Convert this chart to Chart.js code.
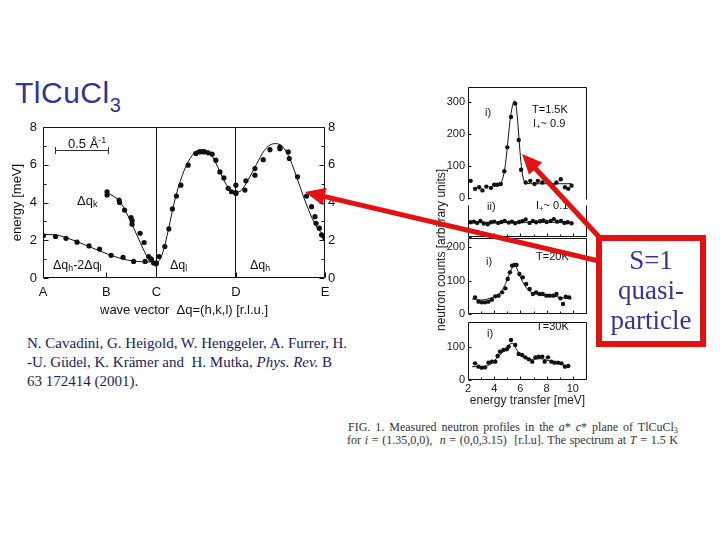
<!DOCTYPE html>
<html><head><meta charset="utf-8">
<script src="https://cdn.jsdelivr.net/npm/chart.js@4.4.1/dist/chart.umd.min.js"></script>
<style>
html,body{margin:0;padding:0;background:#fff;}
#stage{position:relative;width:720px;height:540px;overflow:hidden;font-family:"Liberation Sans",Arial,sans-serif;color:#111;}
.abs{position:absolute;white-space:nowrap;line-height:1;}
canvas{position:absolute;}
sub{font-size:70%;vertical-align:-0.25em;line-height:0;}
.cap{position:absolute;left:348px;width:330px;font-family:'Liberation Serif',serif;font-size:12px;line-height:13px;color:#333;text-align:justify;text-align-last:justify;white-space:nowrap;}
</style></head><body><div id="stage">

<div class="abs" style="left:15px;top:78px;font-size:30px;color:#333399;letter-spacing:0.5px;">TlCuCl<span style="font-size:20px;position:relative;top:9px;">3</span></div>

<canvas id="disp" width="340" height="210" style="left:5px;top:110px;"></canvas>
<canvas id="p15" width="170" height="137" style="left:430px;top:75px;"></canvas>
<canvas id="pii" width="170" height="56" style="left:430px;top:193px;"></canvas>
<canvas id="p20" width="170" height="100" style="left:430px;top:226px;"></canvas>
<canvas id="p30" width="170" height="100" style="left:430px;top:310px;"></canvas>

<!-- dispersion annotations -->
<div class="abs" style="left:68px;top:137px;font-size:13px;">0.5 Å<sup style="font-size:9px;vertical-align:5px;line-height:0">-1</sup></div>
<div class="abs" style="left:55px;top:150px;width:54px;height:0;border-top:1px solid #333;"></div>
<div class="abs" style="left:55px;top:147px;width:0;height:7px;border-left:1px solid #333;"></div>
<div class="abs" style="left:108px;top:147px;width:0;height:7px;border-left:1px solid #333;"></div>
<div class="abs" style="left:77px;top:194px;font-size:13px;">Δq<sub>k</sub></div>
<div class="abs" style="left:53px;top:259px;font-size:12.5px;">Δq<sub>h</sub>-2Δq<sub>l</sub></div>
<div class="abs" style="left:170px;top:259px;font-size:12.5px;">Δq<sub>l</sub></div>
<div class="abs" style="left:250px;top:259px;font-size:12.5px;">Δq<sub>h</sub></div>

<!-- spectra annotations -->
<div class="abs" style="left:441px;top:250px;font-size:12px;transform:translate(-50%,-50%) rotate(-90deg);">neutron counts [arbitrary units]</div>
<div class="abs" style="left:485px;top:107px;font-size:11px;">i)</div>
<div class="abs" style="left:532px;top:104px;font-size:11px;">T=1.5K</div>
<div class="abs" style="left:533px;top:118px;font-size:11px;">I<sub>+</sub>~ 0.9</div>
<div class="abs" style="left:487px;top:201px;font-size:11px;">ii)</div>
<div class="abs" style="left:536px;top:200px;font-size:11px;">I<sub>+</sub>~ 0.1</div>
<div class="abs" style="left:486px;top:256px;font-size:11px;">i)</div>
<div class="abs" style="left:536px;top:251px;font-size:11px;">T=20K</div>
<div class="abs" style="left:487px;top:328px;font-size:11px;">i)</div>
<div class="abs" style="left:536px;top:321px;font-size:11px;">T=30K</div>

<!-- citation -->
<div class="abs" style="left:27px;top:334px;font-family:'Liberation Serif',serif;font-size:15px;line-height:19px;color:#1a1a5e;">N. Cavadini, G. Heigold, W. Henggeler, A. Furrer, H.<br>-U. Güdel, K. Krämer and &nbsp;H. Mutka, <i>Phys. Rev.</i> B<br>63 172414 (2001).</div>

<!-- caption -->
<div class="cap" style="top:421px;">FIG. 1. Measured neutron profiles in the <i>a</i>* <i>c</i>* plane of TlCuCl<sub>3</sub></div>
<div class="cap" style="top:434px;left:347px;width:331px;">for <i>i</i> = (1.35,0,0), &nbsp;<i>n</i> = (0,0,3.15) &nbsp;[r.l.u]. The spectrum at <i>T</i> = 1.5 K</div>

<svg id="ov" width="720" height="540" style="position:absolute;left:0;top:0;"></svg>

<div class="abs" style="left:602px;top:245px;width:98px;text-align:center;font-family:'Liberation Serif',serif;font-size:27px;line-height:30px;color:#333399;">S=1<br>quasi-<br>particle</div>

</div>
<script>
// ---------- DATA ----------
// Dispersion (energy [meV] vs wave vector path position)
const dispTickLabels = ['A','B','C','D','E'];
const dispTickPos = [0, 63.3, 113.3, 192.7, 281.7];
const dispYTicks = [0, 2, 4, 6, 8];
const dispYMinor = [1, 3, 5, 7];

const acX = [0.5, 12.5, 23, 34, 46, 56.5, 68, 80, 90.5, 102, 108, 110.5, 113];
const acY = [2.25, 2.2, 2.1, 1.9, 1.7, 1.53, 1.2, 1.1, 0.88, 0.88, 1.0, 0.8, 0.75];
const acFitX = [0, 8, 16, 24, 32, 40, 48, 56, 64, 72, 80, 88, 96, 104, 113.3];
const acFitY = [2.3, 2.3, 2.25, 2.12, 1.97, 1.8, 1.62, 1.45, 1.28, 1.13, 1.0, 0.92, 0.87, 0.85, 0.85];

const kX = [64, 64, 76, 76.5, 81.5, 88, 89, 89, 97, 101, 105.5, 108];
const kY = [4.57, 4.4, 4.13, 4.0, 3.6, 3.2, 3.04, 2.85, 2.37, 1.88, 1.14, 1.0];
const kFitX = [64, 70, 76, 82, 88, 94, 100, 106, 109];
const kFitY = [4.5, 4.35, 4.1, 3.6, 2.95, 2.25, 1.55, 0.95, 0.85];

const cdX = [113.3, 116, 121.7, 125.7, 129.3, 133.3, 137.7, 145, 152.7, 156.7, 160.7, 165, 169, 172.7, 176.7, 180.7, 185, 188.3, 192.7];
const cdY = [0.79, 1.14, 1.67, 2.6, 3.66, 4.34, 4.92, 5.98, 6.6, 6.68, 6.68, 6.63, 6.56, 6.24, 5.62, 5.3, 4.75, 4.57, 4.48];
const cdFitX = [113.3, 117, 121, 125, 129, 133, 137, 141, 145, 149, 153, 157, 161, 165, 169, 173, 177, 181, 185, 189, 192.7];
const cdFitY = [0.8, 1.0, 1.6, 2.5, 3.5, 4.4, 5.1, 5.7, 6.15, 6.5, 6.72, 6.8, 6.8, 6.7, 6.45, 6.05, 5.6, 5.15, 4.8, 4.6, 4.55];

const deX = [192.7, 192.7, 201.7, 202.7, 211.7, 211.7, 220, 226.7, 236.7, 236.7, 245, 246, 254.3, 263.3, 268.3, 271.7, 272.7, 276, 278.3, 281, 281.7];
const deY = [4.92, 4.52, 4.66, 5.15, 5.45, 5.8, 6.27, 6.8, 6.94, 6.85, 6.68, 6.33, 5.36, 4.34, 3.78, 3.25, 2.9, 2.64, 2.28, 2.2, 2.1];
const deFitX = [192.7, 197, 201, 205, 209, 213, 217, 221, 225, 229, 233, 237, 241, 245, 249, 253, 257, 261, 265, 269, 273, 277, 281.7];
const deFitY = [4.55, 4.6, 4.85, 5.2, 5.6, 6.0, 6.4, 6.75, 6.98, 7.1, 7.12, 7.05, 6.85, 6.5, 6.0, 5.4, 4.8, 4.2, 3.65, 3.15, 2.75, 2.45, 2.25];

// Spectra (neutron counts vs energy transfer [meV])
const specXTicks = [2, 4, 6, 8, 10];
const specXMinor = [3, 5, 7, 9, 11];

const p15E = [2.2, 2.54, 2.85, 3.1, 3.4, 3.75, 4.0, 4.25, 4.5, 4.77, 5.0, 5.28, 5.6, 5.87, 6.05, 6.4, 6.75, 7.08, 7.33, 7.67, 7.92, 8.18, 8.5, 8.75, 9.08, 9.4, 9.65, 9.9];
const p15C = [54, 29, 34, 24, 36, 32, 42, 42, 44, 84, 159, 254, 296, 182, 89, 49, 54, 44, 54, 49, 59, 49, 39, 49, 59, 34, 29, 39];
const fit15E = [4.4, 4.6, 4.8, 5.0, 5.2, 5.4, 5.55, 5.7, 5.85, 6.0, 6.15, 6.3, 6.5, 7.0, 8.0, 9.0, 9.9];
const fit15C = [45, 55, 90, 160, 240, 290, 305, 280, 210, 130, 75, 52, 46, 45, 45, 45, 45];
const p15Ticks = [0, 100, 200, 300];

const iiE = [2.2, 2.45, 2.7, 2.95, 3.2, 3.5, 3.75, 4.0, 4.3, 4.55, 4.8, 5.1, 5.35, 5.6, 5.9, 6.15, 6.4, 6.7, 6.95, 7.2, 7.5, 7.75, 8.0, 8.3, 8.55, 8.8, 9.1, 9.35, 9.6, 9.9];
const iiC = [46, 48, 44, 50, 42, 40, 46, 48, 44, 47, 50, 45, 48, 43, 47, 49, 55, 44, 50, 46, 49, 52, 47, 50, 56, 48, 50, 44, 46, 43];
const fitiiE = [2.2, 6.0, 10.0];
const fitiiC = [46, 46, 46];

const p20E = [2.54, 2.8, 3.05, 3.3, 3.56, 3.82, 4.08, 4.33, 4.6, 4.85, 5.03, 5.2, 5.36, 5.54, 5.7, 5.92, 6.18, 6.44, 6.7, 6.95, 7.2, 7.46, 7.7, 7.97, 8.23, 8.5, 8.75, 9.05, 9.25, 9.46, 9.72];
const p20C = [50, 37, 35, 35, 37, 43, 53, 55, 65, 77, 105, 125, 145, 147, 147, 120, 110, 90, 75, 60, 65, 60, 60, 55, 55, 55, 60, 47, 30, 52, 50];
const fit20E = [2.3, 3.0, 3.5, 4.0, 4.5, 4.8, 5.1, 5.4, 5.6, 5.8, 6.0, 6.3, 6.6, 7.0, 7.5, 8.0, 8.5, 9.0, 9.5, 9.9];
const fit20C = [45, 42, 45, 52, 65, 85, 115, 140, 145, 130, 110, 88, 72, 62, 58, 56, 54, 50, 47, 45];
const p20Ticks = [0, 100, 200];

const p30E = [2.54, 2.8, 3.05, 3.3, 3.56, 3.82, 4.08, 4.26, 4.44, 4.7, 4.95, 5.1, 5.28, 5.6, 5.87, 6.13, 6.38, 6.64, 6.9, 7.15, 7.4, 7.67, 7.85, 8.1, 8.36, 8.6, 8.87, 9.13, 9.4, 9.65];
const p30C = [50, 40, 37, 38, 52, 55, 55, 72, 85, 90, 92, 100, 120, 105, 78, 75, 68, 62, 55, 68, 70, 70, 55, 68, 55, 52, 52, 50, 40, 42];
const fit30E = [2.3, 3.2, 3.8, 4.3, 4.8, 5.2, 5.4, 5.7, 6.0, 6.4, 7.0, 7.5, 8.0, 8.5, 9.0, 9.5, 9.8];
const fit30C = [40, 40, 50, 70, 90, 108, 110, 92, 75, 65, 62, 64, 60, 53, 48, 43, 42];
const p30Ticks = [0, 100];

// ---------- HELPERS ----------
const zip = (xs, ys) => xs.map((x, i) => ({x, y: ys[i]}));
Chart.defaults.font.family = '"Liberation Sans", Arial, sans-serif';
Chart.defaults.color = '#222';

const frameTicks = {
  id: 'frameTicks',
  afterDatasetsDraw(chart, args, o) {
    const {ctx, chartArea: a, scales} = chart;
    ctx.save();
    ctx.strokeStyle = '#111';
    ctx.lineWidth = 1;
    const L = Math.round(a.left) + 0.5, R = Math.round(a.right) - 0.5;
    const T = Math.round(a.top) + 0.5, B = Math.round(a.bottom) - 0.5;
    const s = o.sides || 'tlbr';
    ctx.beginPath();
    if (s.includes('t')) { ctx.moveTo(L, T); ctx.lineTo(R, T); }
    if (s.includes('b')) { ctx.moveTo(L, B); ctx.lineTo(R, B); }
    if (s.includes('l')) { ctx.moveTo(L, T); ctx.lineTo(L, B); }
    if (s.includes('r')) { ctx.moveTo(R, T); ctx.lineTo(R, B); }
    (o.yTicks || []).forEach(([v, len]) => {
      const p = Math.round(scales.y.getPixelForValue(v)) + 0.5;
      ctx.moveTo(L, p); ctx.lineTo(L + len, p);
      if (o.rightTicks) { ctx.moveTo(R, p); ctx.lineTo(R - len, p); }
    });
    (o.xTicks || []).forEach(([v, len]) => {
      const p = Math.round(scales.x.getPixelForValue(v)) + 0.5;
      ctx.moveTo(p, B); ctx.lineTo(p, B - len);
      if (o.topTicks) { ctx.moveTo(p, T); ctx.lineTo(p, T + len); }
    });
    ctx.stroke();
    ctx.restore();
  }
};

const ptsDs = (data, r) => ({data, showLine: false, pointRadius: r, pointBackgroundColor: '#111', pointBorderColor: '#111', pointBorderWidth: 0});
const lineDs = (data) => ({data, showLine: true, pointRadius: 0, borderColor: '#111', borderWidth: 1, cubicInterpolationMode: 'monotone', fill: false});

// ---------- DISPERSION CHART ----------
new Chart(document.getElementById('disp'), {
  type: 'scatter',
  data: { datasets: [
    lineDs(zip(acFitX, acFitY)), lineDs(zip(kFitX, kFitY)), lineDs(zip(cdFitX, cdFitY)), lineDs(zip(deFitX, deFitY)),
    ptsDs(zip(acX, acY), 2.6), ptsDs(zip(kX, kY), 2.6), ptsDs(zip(cdX, cdY), 2.6), ptsDs(zip(deX, deY), 2.6)
  ]},
  options: {
    responsive: false, animation: false, devicePixelRatio: 1,
    layout: { padding: { top: 17, left: 0, right: 0, bottom: 0 } },
    plugins: { legend: {display: false}, tooltip: {enabled: false},
      frameTicks: { sides: 'tlbr', rightTicks: true, topTicks: false,
        yTicks: dispYTicks.map(v => [v, 5]).concat(dispYMinor.map(v => [v, 3])),
        xTicks: dispTickPos.map(v => [v, 5]) } },
    scales: {
      x: { type: 'linear', min: 0, max: 281.7,
        afterBuildTicks: s => { s.ticks = dispTickPos.map(v => ({value: v})); },
        afterFit: s => { s.height = 42; },
        ticks: { autoSkip: false, maxRotation: 0, padding: 7, font: {size: 13}, color: '#111',
          callback: (v, i) => dispTickLabels[i] },
        grid: { drawTicks: false, color: c => (c.tick && (c.tick.value === dispTickPos[2] || c.tick.value === dispTickPos[3])) ? '#111' : 'rgba(0,0,0,0)' },
        border: { display: false },
        title: { display: true, text: 'wave vector  Δq=(h,k,l) [r.l.u.]', font: {size: 13}, color: '#111', padding: {top: 0, bottom: 2} } },
      y: { type: 'linear', min: 0, max: 8, position: 'left',
        afterBuildTicks: s => { s.ticks = dispYTicks.map(v => ({value: v})); },
        afterFit: s => { s.width = 38; },
        ticks: { padding: 6, font: {size: 13}, color: '#111' },
        grid: { display: false, drawTicks: false }, border: { display: false },
        title: { display: true, text: 'energy [meV]', font: {size: 13}, color: '#111', padding: {top: 5, bottom: 0} } },
      y2: { type: 'linear', min: 0, max: 8, position: 'right',
        afterBuildTicks: s => { s.ticks = dispYTicks.map(v => ({value: v})); },
        afterFit: s => { s.width = 20; },
        ticks: { padding: 3, font: {size: 13}, color: '#111' },
        grid: { display: false, drawTicks: false }, border: { display: false } }
    }
  },
  plugins: [frameTicks]
});

// ---------- SPECTRA ----------
function spec(id, o) {
  new Chart(document.getElementById(id), {
    type: 'scatter',
    data: { datasets: [ lineDs(zip(o.fitE, o.fitC)), ptsDs(zip(o.E, o.C), 2.2) ] },
    options: {
      responsive: false, animation: false, devicePixelRatio: 1,
      layout: { padding: { top: o.padTop, left: 0, right: 13, bottom: 0 } },
      plugins: { legend: {display: false}, tooltip: {enabled: false},
        frameTicks: { sides: o.sides, rightTicks: false, topTicks: false,
          yTicks: o.ticks.map(v => [v, 3]),
          xTicks: o.sides.includes('b') ? specXTicks.map(v => [v, 3]).concat(specXMinor.map(v => [v, 2])) : [] } },
      scales: {
        x: { type: 'linear', min: 2, max: 11.08,
          afterBuildTicks: s => { s.ticks = specXTicks.map(v => ({value: v})); },
          afterFit: s => { s.height = o.xH; },
          ticks: { display: !!o.showX, autoSkip: false, maxRotation: 0, padding: 2, font: {size: 11}, color: '#222' },
          grid: { display: false, drawTicks: false }, border: { display: false },
          title: { display: !!o.showX, text: 'energy transfer [meV]', font: {size: 12}, color: '#222', padding: {top: 0, bottom: 2} } },
        y: { type: 'linear', min: o.yMin, max: o.yMax,
          afterBuildTicks: s => { s.ticks = o.ticks.map(v => ({value: v})); },
          afterFit: s => { s.width = 38; },
          ticks: { display: o.labels !== false, padding: 3, font: {size: 11}, color: '#222' },
          grid: { display: false, drawTicks: false }, border: { display: false } }
      }
    },
    plugins: [frameTicks]
  });
}

spec('p15', { E: p15E, C: p15C, fitE: fit15E, fitC: fit15C, ticks: p15Ticks, yMin: -6, yMax: 348, padTop: 12, xH: 12, sides: 'tlr' });
spec('pii', { E: iiE, C: iiC, fitE: fitiiE, fitC: fitiiC, ticks: [0], labels: false, yMin: 0, yMax: 100, padTop: 12, xH: 12, sides: 'lrb' });
spec('p20', { E: p20E, C: p20C, fitE: fit20E, fitC: fit20C, ticks: p20Ticks, yMin: 0, yMax: 228, padTop: 12, xH: 12, sides: 'tlrb' });
spec('p30', { E: p30E, C: p30C, fitE: fit30E, fitC: fit30C, ticks: p30Ticks, yMin: 0, yMax: 174, padTop: 12, xH: 30, showX: true, sides: 'tlrb' });

// ---------- RED OVERLAY ----------
const NS = 'http://www.w3.org/2000/svg';
const svg = document.getElementById('ov');
const RED = 'rgb(226,18,18)';
function el(name, attrs) { const e = document.createElementNS(NS, name); for (const k in attrs) e.setAttribute(k, attrs[k]); svg.appendChild(e); return e; }
function arrow(x1, y1, x2, y2) {
  const dx = x2 - x1, dy = y2 - y1, L = Math.hypot(dx, dy), ux = dx / L, uy = dy / L;
  const hl = 20, hw = 9;
  const bx = x2 - ux * hl, by = y2 - uy * hl;
  el('line', {x1, y1, x2: bx + ux * 2, y2: by + uy * 2, stroke: RED, 'stroke-width': 5});
  el('polygon', {points: `${x2},${y2} ${bx - uy * hw},${by + ux * hw} ${bx + uy * hw},${by - ux * hw}`, fill: RED});
}
arrow(599, 261, 305, 192);
arrow(600, 238, 522, 154);
el('rect', {x: 599, y: 238, width: 104, height: 106, fill: '#fff', stroke: RED, 'stroke-width': 6});
</script>
</body></html>
